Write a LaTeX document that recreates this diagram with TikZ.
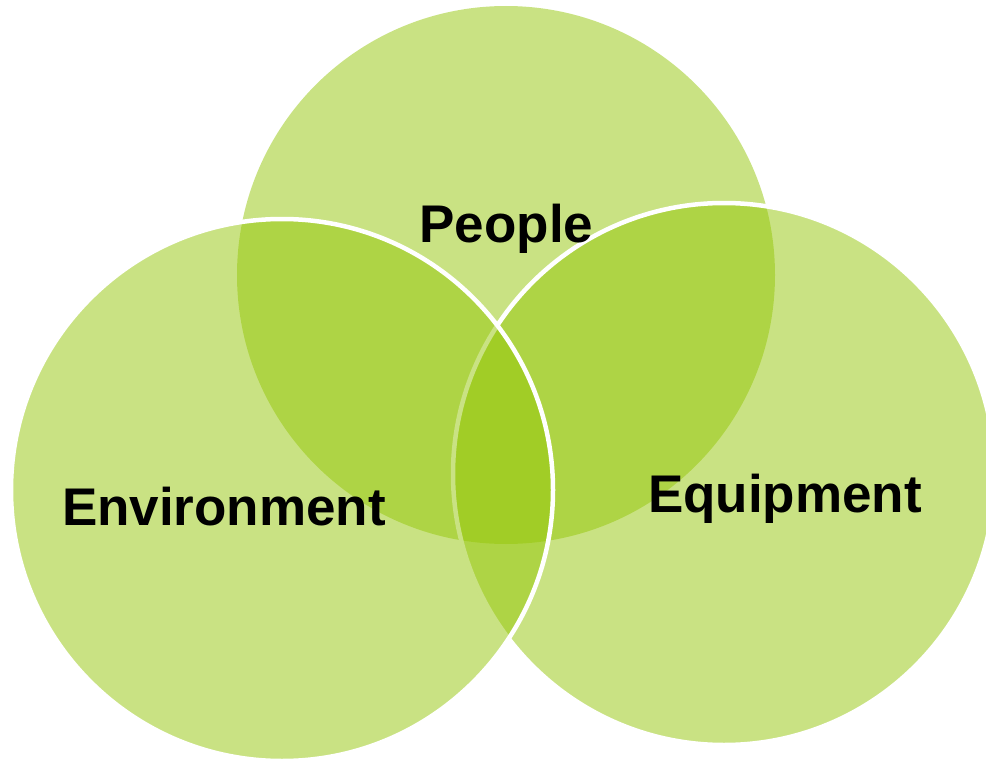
\documentclass[tikz,border=0pt]{standalone}
\usepackage{fontspec}
\setmainfont{Liberation Sans}
\definecolor{venngreen}{RGB}{148,198,8}
\begin{document}
\begin{tikzpicture}[x=1pt,y=-1pt,
  vennfill/.style={fill=venngreen,fill opacity=0.5},
  vennring/.style={vennfill,draw=white,draw opacity=1,line width=4.5pt},
  lbl/.style={anchor=base,inner sep=0pt,text=black,font=\fontsize{53}{60}\selectfont\bfseries}]
  \useasboundingbox (0,0) rectangle (986,760);
  \begin{scope}
    \clip (0,0) rectangle (986,760);
    % People (top)
    \path[vennfill] (506,275) circle[radius=269];
    % Equipment (right)
    \path[vennring] (724,474) circle[radius=271];
    % Environment (left)
    \path[vennring] (282,490) circle[radius=271];
  \end{scope}
  \node[lbl] (people) at (506.5,242) {People};
  \node[lbl] (environment) at (224,525) {Environment};
  \node[lbl] (equipment) at (785,512) {Equipment};
\end{tikzpicture}
\end{document}
